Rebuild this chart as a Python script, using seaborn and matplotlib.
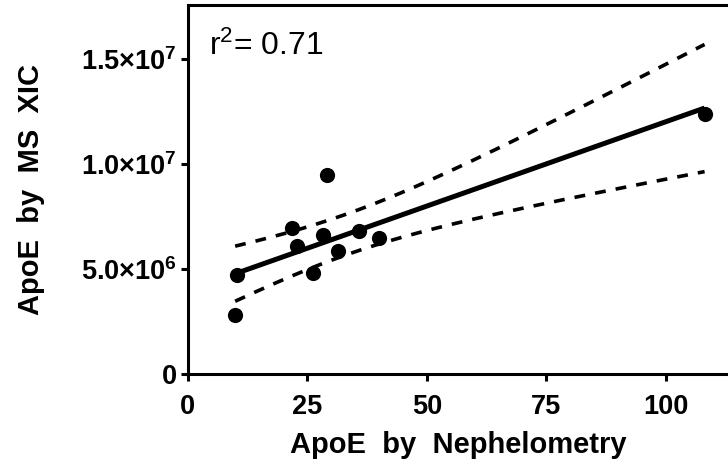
import matplotlib
matplotlib.use("Agg")
import matplotlib.pyplot as plt
import numpy as np
import pandas as pd
import seaborn as sns

# values
nephelometry = [10.2, 9.9, 21.8, 22.9, 26.2, 28.3, 29.2, 31.4, 35.8, 39.9, 108.1]
ms_xic = [4.71e6, 2.81e6, 6.97e6, 6.10e6, 4.83e6, 6.62e6, 9.48e6, 5.87e6, 6.81e6, 6.46e6, 12.38e6]
x_ticks = [0, 25, 50, 75, 100]
y_ticks = [0, 5e6, 1e7, 1.5e7]
y_tick_labels = ["0", "5.0×10$^{6}$", "1.0×10$^{7}$", "1.5×10$^{7}$"]
r2_text = "r$^{2}$= 0.71"

df = pd.DataFrame({"neph": nephelometry, "xic": ms_xic})

sns.set_theme(style="ticks", rc={
    "text.color": "black", "axes.labelcolor": "black",
    "xtick.color": "black", "ytick.color": "black", "axes.edgecolor": "black",
})
plt.rcParams["font.family"] = ["Liberation Sans", "DejaVu Sans"]
plt.rcParams["mathtext.default"] = "regular"

fig = plt.figure(figsize=(7.28, 4.67), dpi=100)
ax = fig.add_axes([0.258, 0.199, 0.742, 0.79])

sns.regplot(
    data=df, x="neph", y="xic", ax=ax, ci=None, color="black",
    scatter_kws={"s": 120, "alpha": 1, "linewidths": 0, "zorder": 3},
    line_kws={"lw": 3.6, "solid_capstyle": "butt"},
)

# 95% confidence band of the fitted line
x = df["neph"].to_numpy()
y = df["xic"].to_numpy()
n = len(x)
slope, icept = np.polyfit(x, y, 1)
resid = y - (slope * x + icept)
s_err = np.sqrt(np.sum(resid ** 2) / (n - 2))
t_crit = 2.262  # t(0.975, df=9)
xs = np.linspace(x.min(), x.max(), 200)
fit = slope * xs + icept
half = t_crit * s_err * np.sqrt(1 / n + (xs - x.mean()) ** 2 / np.sum((x - x.mean()) ** 2))
ax.plot(xs, fit + half, color="black", lw=2.6, ls=(0, (3, 2.8)))
ax.plot(xs, fit - half, color="black", lw=2.6, ls=(0, (3, 2.8)))

ax.set_xlim(0, 113)
ax.set_ylim(0, 1.757e7)
ax.set_xticks(x_ticks)
ax.set_xticklabels([str(t) for t in x_ticks])
ax.set_yticks(y_ticks)
ax.set_yticklabels(y_tick_labels)
ax.tick_params(labelsize=19.5, width=2.2, length=5, colors="black")
ax.tick_params(axis="x", pad=9)
ax.tick_params(axis="y", pad=3)
for lab in ax.get_xticklabels() + ax.get_yticklabels():
    lab.set_fontweight("bold")

ax.set_xlabel("ApoE  by  Nephelometry", fontsize=21, fontweight="bold", labelpad=8)
ax.set_ylabel("ApoE  by  MS  XIC", fontsize=21, fontweight="bold", labelpad=26)

for side in ["left", "bottom", "top"]:
    ax.spines[side].set_linewidth(2.2)
    ax.spines[side].set_color("black")
ax.spines["right"].set_visible(False)

ax.text(0.04, 0.93, r2_text, transform=ax.transAxes, fontsize=23, va="top", ha="left",
        color="black")

fig.savefig("out.png", dpi=100)
